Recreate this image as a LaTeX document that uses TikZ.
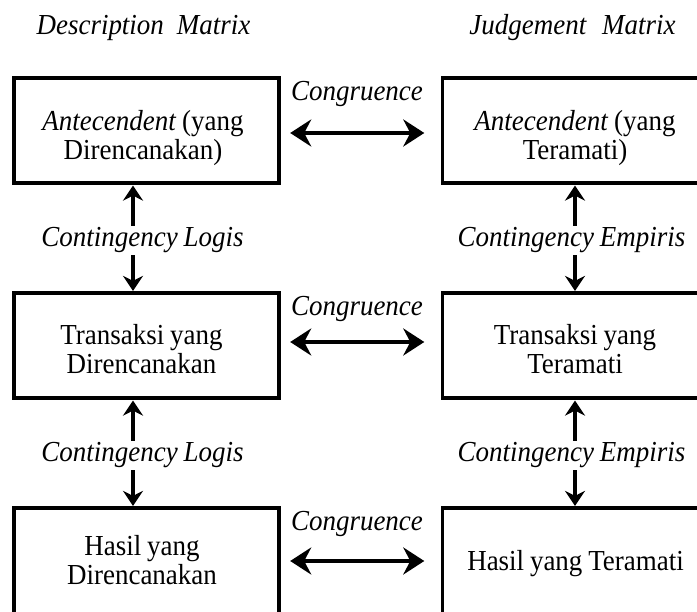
\documentclass[tikz,border=0pt]{standalone}
\usepackage{fontspec}
\setmainfont[FakeStretch=0.93]{Liberation Serif}
\usetikzlibrary{arrows.meta}
\newdimen\mysp
\tikzset{
  txt/.style={font=\fontsize{29}{29}\selectfont, execute at begin node={\mysp=0.2em\spaceskip=\mysp\relax}, inner sep=0pt, align=center},
  boxnode/.style={draw, line width=3.2pt, minimum width=265pt, minimum height=105pt, inner sep=0pt},
  hconn/.style={{Stealth[length=21pt,width=27pt,inset=7pt]}-{Stealth[length=21pt,width=27pt,inset=7pt]}, line width=3.6pt},
  vconn/.style={{Stealth[length=15pt,width=20pt,inset=5pt]}-{Stealth[length=15pt,width=20pt,inset=5pt]}, line width=3.2pt, shorten <=1pt, shorten >=0.5pt},
  lbl/.style={txt, fill=white, inner sep=1.5pt, anchor=base}
}
\begin{document}
\begin{tikzpicture}[x=1pt,y=-1pt]
\path[use as bounding box, clip] (0,0) rectangle (697,612);

% headers
\node[txt, anchor=base] (hd) at (143.5,35) {\itshape Description\hspace{0.45em}Matrix};
\node[txt, anchor=base] (hj) at (572.5,35) {\itshape Judgement\hspace{0.55em}Matrix};

% boxes
\node[boxnode] (d1) at (146.5,130.5) {};
\node[boxnode] (d2) at (146.5,345.5) {};
\node[boxnode, minimum height=112pt] (d3) at (146.5,564) {};
\node[boxnode] (j1) at (575,130.5) {};
\node[boxnode] (j2) at (575,345.5) {};
\node[boxnode, minimum height=112pt] (j3) at (575,564) {};

% box texts
\node[txt] (td1) at (143,138) {\textit{Antecendent} (yang\\Direncanakan)};
\node[txt] (td2) at (141.5,349) {Transaksi yang\\Direncanakan};
\node[txt] (td3) at (142,560) {Hasil yang\\Direncanakan};
\node[txt] (tj1) at (575,138) {\textit{Antecendent} (yang\\Teramati)};
\node[txt] (tj2) at (575,349) {Transaksi yang\\Teramati};
\node[txt] (tj3) at (575.5,563.5) {Hasil yang Teramati};

% congruence arrows
\draw[hconn, shorten <=9.6pt, shorten >=16.6pt] ([yshift=-2.5pt]d1.east) -- ([yshift=-2.5pt]j1.west);
\draw[hconn, shorten <=9.6pt, shorten >=16.6pt] ([yshift=3.5pt]d2.east) -- ([yshift=3.5pt]j2.west);
\draw[hconn, shorten <=9.6pt, shorten >=16.6pt] ([yshift=3pt]d3.east) -- ([yshift=3pt]j3.west);
\node[txt, anchor=base] (c1) at (357,101) {\itshape Congruence};
\node[txt, anchor=base] (c2) at (357,316) {\itshape Congruence};
\node[txt, anchor=base] (c3) at (357,531) {\itshape Congruence};

% contingency arrows
\draw[vconn] ([xshift=-13.5pt]d1.south) -- ([xshift=-13.5pt]d2.north);
\draw[vconn] ([xshift=-13.5pt]d2.south) -- ([xshift=-13.5pt]d3.north);
\draw[vconn] (j1.south) -- (j2.north);
\draw[vconn] (j2.south) -- (j3.north);
\node[lbl] (l1) at (142.5,247) {\itshape Contingency Logis};
\node[lbl] (l2) at (142.5,462) {\itshape Contingency Logis};
\node[lbl] (e1) at (571.5,247) {\itshape Contingency Empiris};
\node[lbl] (e2) at (571.5,462) {\itshape Contingency Empiris};
\end{tikzpicture}
\end{document}
